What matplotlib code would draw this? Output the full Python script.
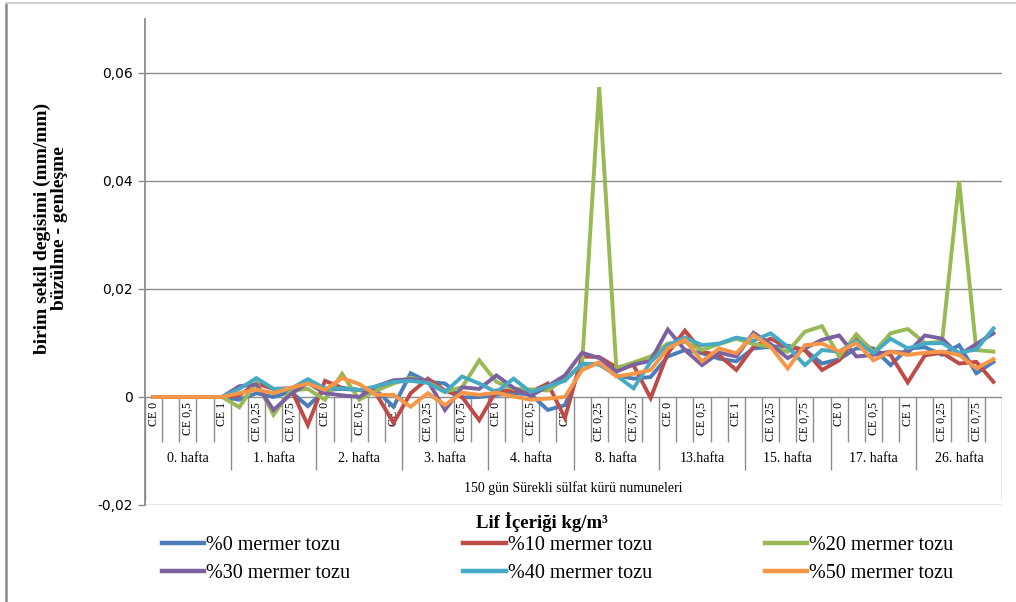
import matplotlib
matplotlib.use("Agg")
import matplotlib.pyplot as plt
from matplotlib.lines import Line2D

# ---- data -------------------------------------------------------------
weeks = ["0. hafta", "1. hafta", "2. hafta", "3. hafta", "4. hafta",
         "8. hafta", "13.hafta", "15. hafta", "17. hafta", "26. hafta"]
fibre = ["CE 0", "CE 0,25", "CE 0,5", "CE 0,75", "CE 1"]

m0 = [0, 0, 0, 0, 0,
      -0.0005, 0.0007, 0.0000, 0.0010, -0.0017,
      0.0013, 0.0015, 0.0013, 0.0012, -0.0018,
      0.0044, 0.0028, 0.0025, -0.0001, 0.0000,
      0.0004, 0.0007, 0.0005, -0.0024, -0.0015,
      0.0060, 0.0062, 0.0040, 0.0034, 0.0037,
      0.0075, 0.0087, 0.0081, 0.0071, 0.0066,
      0.0090, 0.0093, 0.0095, 0.0087, 0.0062,
      0.0070, 0.0090, 0.0090, 0.0059, 0.0090,
      0.0092, 0.0078, 0.0096, 0.0044, 0.0065]
m10 = [0, 0, 0, 0, 0,
       0.0003, 0.0025, 0.0015, 0.0016, -0.0052,
       0.0030, 0.0017, 0.0013, 0.0005, -0.0048,
       0.0007, 0.0034, 0.0012, 0.0000, -0.0043,
       0.0012, 0.0012, 0.0009, 0.0025, -0.0039,
       0.0075, 0.0074, 0.0055, 0.0059, -0.0002,
       0.0081, 0.0123, 0.0084, 0.0077, 0.0050,
       0.0093, 0.0108, 0.0092, 0.0087, 0.0050,
       0.0068, 0.0112, 0.0085, 0.0078, 0.0027,
       0.0077, 0.0082, 0.0062, 0.0065, 0.0028]
m20 = [0, 0, 0, 0, 0,
       -0.0019, 0.0028, -0.0033, 0.0012, 0.0015,
       -0.0005, 0.0043, -0.0005, 0.0012, 0.0025,
       0.0036, 0.0028, 0.0010, 0.0018, 0.0068,
       0.0028, 0.0015, 0.0014, 0.0012, 0.0034,
       0.0060, 0.0574, 0.0053, 0.0064, 0.0075,
       0.0099, 0.0102, 0.0087, 0.0098, 0.0108,
       0.0098, 0.0093, 0.0084, 0.0121, 0.0131,
       0.0075, 0.0116, 0.0082, 0.0118, 0.0126,
       0.0100, 0.0102, 0.0400, 0.0087, 0.0084]
m30 = [0, 0, 0, 0, 0,
       0.0020, 0.0023, -0.0024, 0.0005, 0.0026,
       0.0007, 0.0003, 0.0000, 0.0020, 0.0031,
       0.0033, 0.0030, -0.0024, 0.0018, 0.0015,
       0.0040, 0.0017, 0.0002, 0.0020, 0.0040,
       0.0082, 0.0072, 0.0047, 0.0060, 0.0067,
       0.0125, 0.0087, 0.0059, 0.0082, 0.0075,
       0.0119, 0.0098, 0.0072, 0.0090, 0.0106,
       0.0114, 0.0075, 0.0078, 0.0084, 0.0082,
       0.0114, 0.0108, 0.0078, 0.0098, 0.0118]
m40 = [0, 0, 0, 0, 0,
       0.0015, 0.0035, 0.0015, 0.0015, 0.0033,
       0.0016, 0.0016, 0.0013, 0.0020, 0.0028,
       0.0030, 0.0026, 0.0009, 0.0038, 0.0025,
       0.0009, 0.0034, 0.0009, 0.0020, 0.0030,
       0.0062, 0.0060, 0.0040, 0.0016, 0.0065,
       0.0096, 0.0110, 0.0096, 0.0099, 0.0110,
       0.0104, 0.0118, 0.0093, 0.0059, 0.0087,
       0.0084, 0.0104, 0.0081, 0.0108, 0.0090,
       0.0099, 0.0100, 0.0082, 0.0088, 0.0127]
m50 = [0, 0, 0, 0, 0,
       0.0007, 0.0014, 0.0007, 0.0017, 0.0025,
       0.0013, 0.0035, 0.0024, 0.0004, 0.0004,
       -0.0018, 0.0007, -0.0015, 0.0008, 0.0004,
       0.0008, 0.0001, -0.0005, -0.0003, 0.0000,
       0.0050, 0.0064, 0.0038, 0.0043, 0.0050,
       0.0090, 0.0106, 0.0066, 0.0090, 0.0081,
       0.0115, 0.0093, 0.0053, 0.0096, 0.0099,
       0.0084, 0.0100, 0.0068, 0.0084, 0.0078,
       0.0082, 0.0084, 0.0078, 0.0053, 0.0070]

series_names = ["%0 mermer tozu", "%10 mermer tozu", "%20 mermer tozu",
                "%30 mermer tozu", "%40 mermer tozu", "%50 mermer tozu"]
series_values = [m0, m10, m20, m30, m40, m50]
colors = ["#4A7EBB", "#BE4B48", "#98B954", "#7D60A0", "#46AAC5", "#F79646"]

y_ticks = [-0.02, 0, 0.02, 0.04, 0.06]
y_tick_labels = ["-0,02", "0", "0,02", "0,04", "0,06"]

# ---- figure -----------------------------------------------------------
W, H = 1016, 602
fig = plt.figure(figsize=(W / 100, H / 100), dpi=100)
serif = "Liberation Serif"

def px(x0, y0, x1, y1):
    return [x0 / W, 1 - y1 / H, (x1 - x0) / W, (y1 - y0) / H]

ax = fig.add_axes(px(145, 19, 1002, 505))
n = len(weeks) * len(fibre)
x = list(range(n))

grid_c = "#8C8C8C"
ax.set_xlim(-0.5, n - 0.5)
ax.set_ylim(-0.02, 0.07)
for v in y_ticks:
    ax.axhline(v, color=grid_c, lw=1.0, zorder=1)
ax.set_yticks(y_ticks)
ax.set_yticklabels(y_tick_labels, fontsize=10, family="DejaVu Sans")
ax.tick_params(axis="y", length=5, color=grid_c, width=1, pad=4)
ax.set_xticks([])
for s in ["top", "right", "bottom"]:
    ax.spines[s].set_visible(False)
ax.spines["left"].set_color(grid_c)
ax.spines["left"].set_linewidth(1.3)

# multi-level category axis drawn below the zero line
y_cat = -0.0083
y_grp = -0.0135
y_out = -0.0191
for b in range(n + 1):
    xb = b - 0.5
    if b == 0 or b == n:
        yb = y_out
    elif b % len(fibre) == 0:
        yb = y_grp
    else:
        yb = y_cat
    ax.plot([xb, xb], [0, yb], color=grid_c, lw=1.0, zorder=1,
            solid_capstyle="butt")

for i in range(0, n, 2):
    ax.text(i, -0.0009, fibre[i % len(fibre)], rotation=90, ha="center",
            va="top", fontsize=8.5, family=serif, zorder=2)
for g, wk in enumerate(weeks):
    cx = g * len(fibre) + (len(fibre) - 1) / 2
    ax.text(cx, -0.0113, wk, ha="center", va="center", fontsize=10,
            family=serif, zorder=2)
ax.text((n - 1) / 2, -0.0169, "150 gün Sürekli sülfat kürü numuneleri",
        ha="center", va="center", fontsize=10, family=serif, zorder=2)

# series
for vals, c, name in zip(series_values, colors, series_names):
    ax.plot(x, vals, color=c, lw=2.8, label=name, zorder=3,
            solid_joinstyle="miter")

# axis titles
fig.text(51 / W, 1 - 228 / H,
         "birim sekil degisimi (mm/mm)\nbüzülme - genleşme",
         rotation=90, ha="center", va="center", fontsize=14,
         fontweight="bold", family=serif, linespacing=1.0)
fig.text(542 / W, 1 - 522 / H, "Lif İçeriği kg/m³", ha="center",
         va="center", fontsize=13.5, fontweight="bold", family=serif)

# legend, filled row by row (3 columns x 2 rows)
order = [0, 3, 1, 4, 2, 5]
handles = [Line2D([], [], color=colors[k], lw=3.2) for k in order]
labels = [series_names[k] for k in order]
fig.legend(handles, labels, loc="upper left",
           bbox_to_anchor=(162 / W, 1 - 536 / H), ncol=3, frameon=False,
           prop={"family": serif, "size": 14.5}, handlelength=2.1,
           handletextpad=0.1, columnspacing=5.6, labelspacing=0.45,
           borderaxespad=0, borderpad=0)

# outer chart frame
fig.add_artist(Line2D([6 / W, 6 / W], [0, 1 - 3 / H], color="#8A8A8A",
                      lw=1.8, transform=fig.transFigure))
fig.add_artist(Line2D([6 / W, 1], [1 - 3 / H, 1 - 3 / H], color="#D0D0D0",
                      lw=1.5, transform=fig.transFigure))

fig.savefig("out.png", dpi=100)
